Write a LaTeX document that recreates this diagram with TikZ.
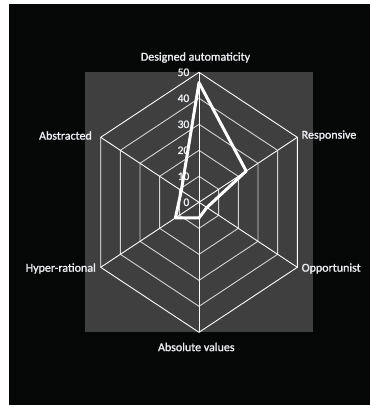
\documentclass[tikz,border=0pt]{standalone}
\usepackage{fontspec}
\setmainfont{Carlito}
\newfontfamily\lblfont[FakeBold=1.3]{Carlito}
\definecolor{bgblack}{RGB}{5,7,7}
\definecolor{plotgrey}{RGB}{62,63,62}
\definecolor{gridc}{RGB}{212,212,212}
\definecolor{txtc}{RGB}{236,238,242}
\begin{document}
\begin{tikzpicture}[x=1pt,y=-1pt,
  lbl/.style={text=txtc,font=\lblfont\fontsize{12}{12}\selectfont,inner sep=0pt},
  num/.style={text=txtc,font=\lblfont\fontsize{11.5}{12}\selectfont,inner sep=0pt,anchor=east},
  ring/.style={draw=gridc,line width=0.9pt},
  spoke/.style={draw=white,line width=0.9pt},
  datal/.style={draw=white,line width=3pt,line join=round}]
\useasboundingbox (0,0) rectangle (370,405);
\fill[white] (0,0) rectangle (370,405);
\fill[bgblack] (9,4) rectangle (370,405);
\fill[plotgrey] (85,71.7) rectangle (312.7,332.3);
\begin{scope}[shift={(199,202.3)}]
  \foreach \r in {0.2,0.4,0.6,0.8}
    \draw[ring] (0,-130*\r) -- (98.3*\r,-65*\r) -- (98.3*\r,65*\r) -- (0,130*\r)
      -- (-98.3*\r,65*\r) -- (-98.3*\r,-65*\r) -- cycle;
  \draw[spoke] (0,-130) -- (98.3,-65) -- (98.3,65) -- (0,130)
      -- (-98.3,65) -- (-98.3,-65) -- cycle;
  \coordinate (o) at (0,0);
  \coordinate (t0) at (0,-130);
  \coordinate (t1) at (98.3,-65);
  \coordinate (t2) at (98.3,65);
  \coordinate (t3) at (0,130);
  \coordinate (t4) at (-98.3,65);
  \coordinate (t5) at (-98.3,-65);
  \foreach \k in {0,...,5} \draw[spoke] (o) -- (t\k);
  \foreach \k/\v in {0/0,1/10,2/20,3/30,4/40,5/50}
    \node[num] (n\v) at (-9.5,-26*\k) {\v};
  \draw[datal] (0,-119.6) -- (47.18,-31.2) -- (7.86,5.2) -- (0,15.6)
     -- (-23.59,15.6) -- (-17.69,-11.7) -- cycle;
\end{scope}
\node[lbl] (da) at (195.5,57.5) {Designed automaticity};
\node[lbl,anchor=east] (ab) at (92,135.5) {Abstracted};
\node[lbl,anchor=west] (re) at (301.5,135.5) {Responsive};
\node[lbl,anchor=east] (hr) at (96,268.5) {Hyper-rational};
\node[lbl,anchor=west] (op) at (301.5,268.5) {Opportunist};
\node[lbl] (av) at (196.3,347) {Absolute values};
\end{tikzpicture}
\end{document}
